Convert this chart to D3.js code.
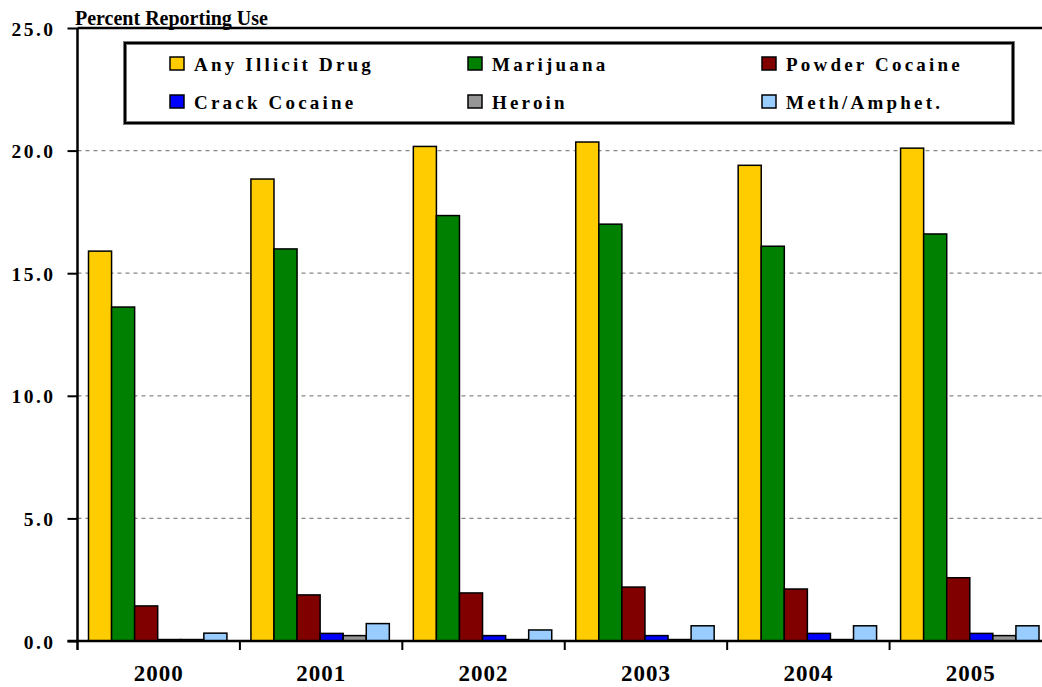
<!DOCTYPE html>
<html><head><meta charset="utf-8">
<script src="https://cdn.jsdelivr.net/npm/d3@7"></script>
<style>html,body{margin:0;padding:0;background:#fff;overflow:hidden}
svg text{font-family:"Liberation Serif","Times New Roman",Times,serif;font-weight:bold;fill:#000}</style>
</head><body><svg id="c" width="1042" height="687"></svg>
<script>
const years = ["2000","2001","2002","2003","2004","2005"];
const seriesNames = ["Any Illicit Drug","Marijuana","Powder Cocaine","Crack Cocaine","Heroin","Meth/Amphet."];
const seriesColors = ["#FFCC00","#008000","#800000","#0000FF","#969696","#99CCFF"];
const anyIllicit = [15.9,18.84,20.17,20.35,19.4,20.1];
const marijuana = [13.62,15.99,17.35,17.0,16.1,16.6];
const powderCocaine = [1.43,1.88,1.96,2.2,2.12,2.58];
const crackCocaine = [0.06,0.31,0.22,0.22,0.31,0.31];
const heroin = [0.06,0.22,0.06,0.06,0.06,0.22];
const methAmphet = [0.32,0.71,0.45,0.62,0.62,0.62];
const yTicks = [0,5,10,15,20,25];
const values = [anyIllicit, marijuana, powderCocaine, crackCocaine, heroin, methAmphet];

const svg = d3.select("#c");
const L = 77.5, R = 1052, T = 28, B = 641;
const x = d3.scaleBand().domain(years).range([L, R]).paddingInner(0).paddingOuter(0);
const inner = d3.scaleBand().domain(d3.range(6)).range([11, x.bandwidth()-13]).padding(0);
const y = d3.scaleLinear().domain([0,25]).range([B, T]);

// grid
svg.append("g").selectAll("line").data(yTicks.filter(d=>d>0 && d<25)).join("line")
  .attr("x1", L).attr("x2", R).attr("y1", d=>y(d)).attr("y2", d=>y(d))
  .attr("stroke", "#888").attr("stroke-width", 1.3).attr("stroke-dasharray", "4,4");
// top border
svg.append("line").attr("x1", L).attr("x2", R).attr("y1", y(25)).attr("y2", y(25)).attr("stroke","#000").attr("stroke-width",2.5);

// bars
const g = svg.append("g");
years.forEach((yr, i) => {
  values.forEach((arr, s) => {
    g.append("rect")
      .attr("x", x(yr) + inner(s))
      .attr("y", y(arr[i]))
      .attr("width", inner.bandwidth())
      .attr("height", y(0) - y(arr[i]))
      .attr("fill", seriesColors[s]).attr("stroke", "#000").attr("stroke-width", 1.5);
  });
});

// y axis
const ya = svg.append("g").attr("transform", `translate(${L},0)`)
  .call(d3.axisLeft(y).tickValues(yTicks).tickFormat(d3.format(".1f")).tickSize(10).tickPadding(12));
ya.select(".domain").attr("stroke-width", 2.5).attr("d", `M0,${T}V${B+9}`);
ya.selectAll(".tick line").attr("stroke-width", 2);
ya.selectAll("text").style("font-size", "19.5px").style("letter-spacing", "2.5px").attr("dy", "0.36em");

// x axis
const xa = svg.append("g").attr("transform", `translate(0,${B})`)
  .call(d3.axisBottom(x).tickSize(0).tickPadding(24));
xa.select(".domain").attr("stroke-width", 2.5).attr("d", `M${L-10},0H${R}`);
xa.selectAll("text").style("font-size", "23px").style("letter-spacing", "1px");
svg.append("g").selectAll("line").data(years.slice(1)).join("line")
  .attr("x1", d=>x(d)).attr("x2", d=>x(d)).attr("y1", B).attr("y2", B+9)
  .attr("stroke","#000").attr("stroke-width",2);

// axis title
svg.append("text").attr("x", 75).attr("y", 25).text("Percent Reporting Use").style("font-size","20px");

// legend
svg.append("rect").attr("x",125).attr("y",43).attr("width",888).attr("height",80)
  .attr("fill","#fff").attr("stroke","#777").attr("stroke-width",4);
svg.append("rect").attr("x",125).attr("y",43).attr("width",888).attr("height",80)
  .attr("fill","none").attr("stroke","#000").attr("stroke-width",2);
const colX = [170, 468, 762], rowY = [64, 102];
seriesNames.forEach((n, i) => {
  const cx = colX[i%3], cy = rowY[Math.floor(i/3)];
  svg.append("rect").attr("x", cx).attr("y", cy-7).attr("width", 14).attr("height", 13)
    .attr("fill", seriesColors[i]).attr("stroke","#000").attr("stroke-width",1.5);
  svg.append("text").attr("x", cx+24).attr("y", cy+6.5).text(n)
    .style("font-size","19px").style("letter-spacing","3.2px");
});
</script></body></html>
